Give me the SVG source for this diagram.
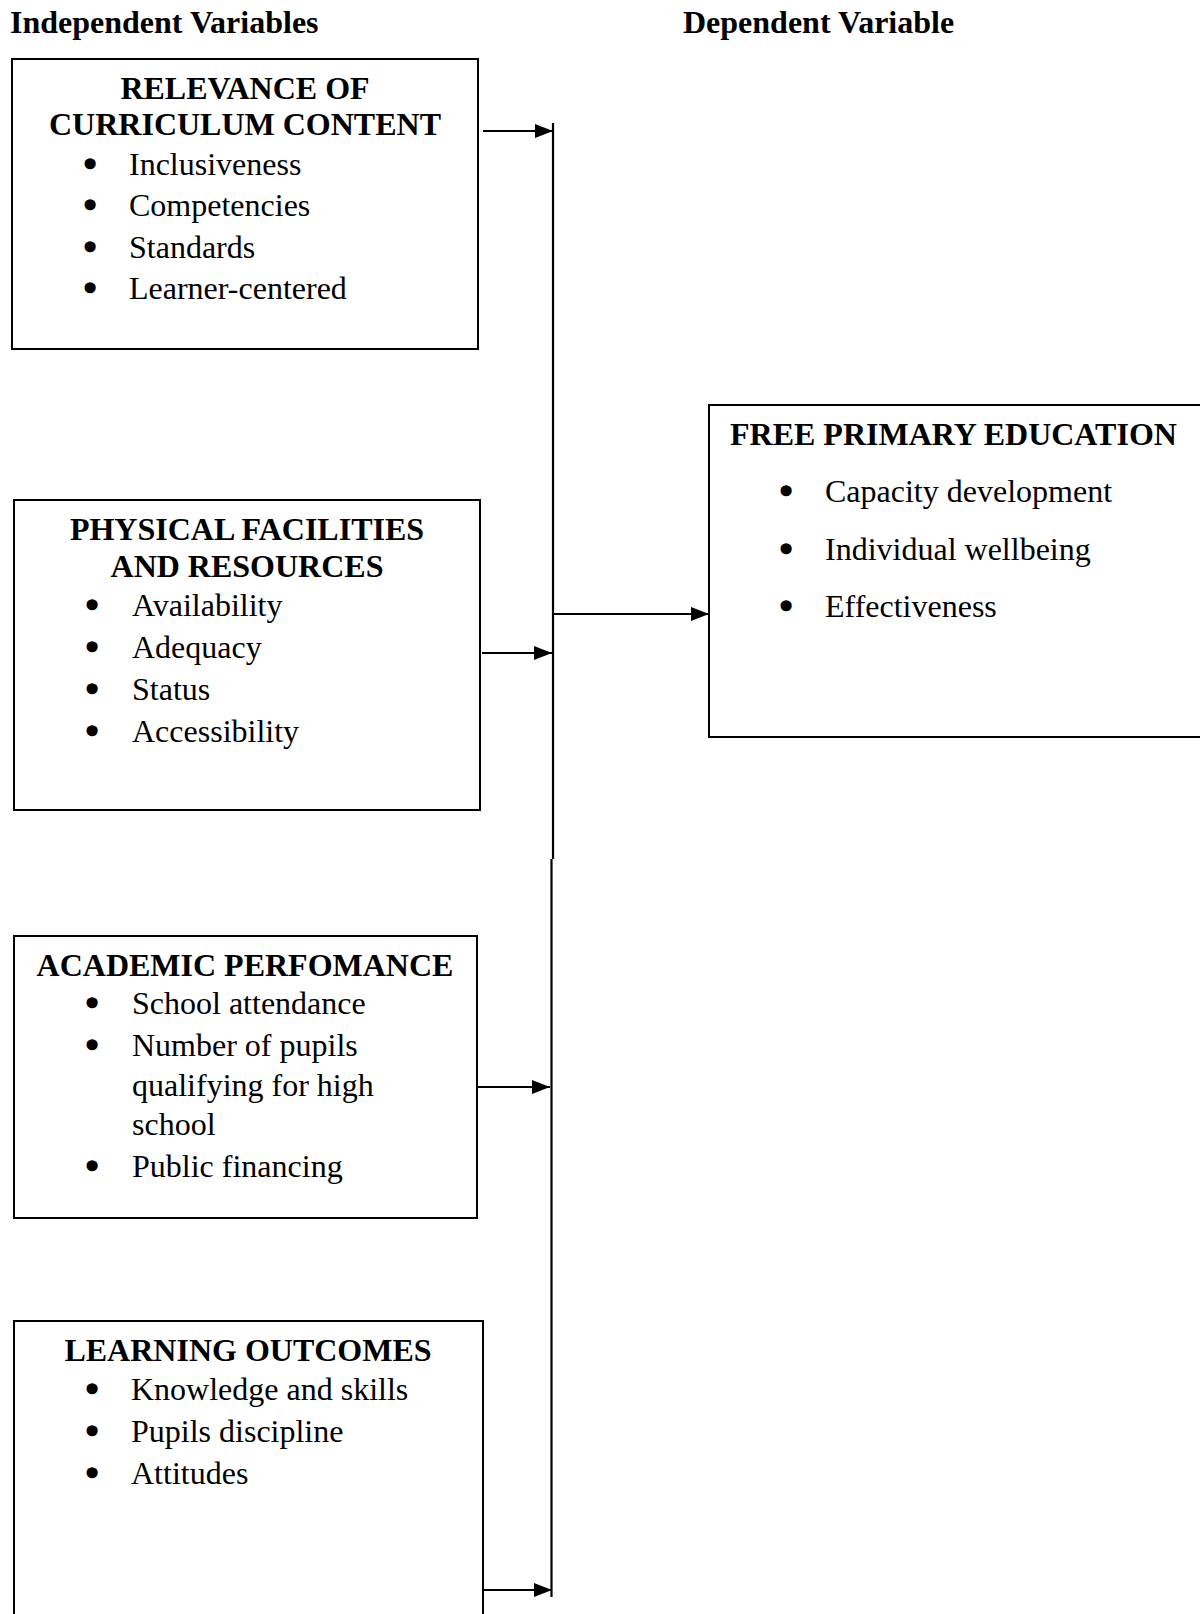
<svg xmlns="http://www.w3.org/2000/svg" width="1200" height="1614" viewBox="0 0 1200 1614">
<style>
text{font-family:"Liberation Serif","Times New Roman",serif;font-size:32px;fill:#000}
.h{font-weight:bold}
.t{font-weight:bold;text-anchor:middle}
.b{text-anchor:middle;stroke:#000;stroke-width:3.5;stroke-linejoin:round}
.box{fill:#fff;stroke:#000;stroke-width:2}
.ln{fill:none;stroke:#000;stroke-width:2.2}
</style>
<defs>
<marker id="ah" markerWidth="18" markerHeight="14" refX="18" refY="7" orient="auto" markerUnits="userSpaceOnUse">
<path d="M0,0 L18,7 L0,14 Z" fill="#000"/>
</marker>
</defs>
<rect width="1200" height="1614" fill="#fff"/>
<text class="h" x="10" y="33">Independent Variables</text>
<text class="h" x="683" y="33">Dependent Variable</text>

<g id="connectors">
<path class="ln" d="M553,123 V859"/>
<path class="ln" d="M551.5,859 V1597"/>
<path class="ln" d="M483,131 H553" marker-end="url(#ah)"/>
<path class="ln" d="M482,653 H552" marker-end="url(#ah)"/>
<path class="ln" d="M477,1087 H550" marker-end="url(#ah)"/>
<path class="ln" d="M483,1590 H552" marker-end="url(#ah)"/>
<path class="ln" d="M553,614 H709" marker-end="url(#ah)"/>
</g>

<g id="relevance">
<rect class="box" x="12" y="59" width="466" height="290"/>
<text class="t" x="245" y="99">RELEVANCE OF</text>
<text class="t" x="245" y="135">CURRICULUM CONTENT</text>
<text class="b" x="90" y="175">•</text><text x="129" y="175">Inclusiveness</text>
<text class="b" x="90" y="216">•</text><text x="129" y="216">Competencies</text>
<text class="b" x="90" y="258">•</text><text x="129" y="258">Standards</text>
<text class="b" x="90" y="299">•</text><text x="129" y="299">Learner-centered</text>
</g>

<g id="facilities">
<rect class="box" x="14" y="500" width="466" height="310"/>
<text class="t" x="247" y="540">PHYSICAL FACILITIES</text>
<text class="t" x="247" y="577">AND RESOURCES</text>
<text class="b" x="92" y="616">•</text><text x="132" y="616">Availability</text>
<text class="b" x="92" y="658">•</text><text x="132" y="658">Adequacy</text>
<text class="b" x="92" y="700">•</text><text x="132" y="700">Status</text>
<text class="b" x="92" y="742">•</text><text x="132" y="742">Accessibility</text>
</g>

<g id="fpe">
<rect class="box" x="709" y="405" width="500" height="332"/>
<text class="h" x="730" y="445">FREE PRIMARY EDUCATION</text>
<text class="b" x="786" y="502">•</text><text x="825" y="502">Capacity development</text>
<text class="b" x="786" y="560">•</text><text x="825" y="560">Individual wellbeing</text>
<text class="b" x="786" y="617">•</text><text x="825" y="617">Effectiveness</text>
</g>

<g id="academic">
<rect class="box" x="14" y="936" width="463" height="282"/>
<text class="t" x="245" y="976">ACADEMIC PERFOMANCE</text>
<text class="b" x="92" y="1014">•</text><text x="132" y="1014">School attendance</text>
<text class="b" x="92" y="1056">•</text><text x="132" y="1056">Number of pupils</text>
<text x="132" y="1096">qualifying for high</text>
<text x="132" y="1135">school</text>
<text class="b" x="92" y="1177">•</text><text x="132" y="1177">Public financing</text>
</g>

<g id="outcomes">
<rect class="box" x="14" y="1321" width="469" height="310"/>
<text class="t" x="248" y="1361">LEARNING OUTCOMES</text>
<text class="b" x="92" y="1400">•</text><text x="131" y="1400">Knowledge and skills</text>
<text class="b" x="92" y="1442">•</text><text x="131" y="1442">Pupils discipline</text>
<text class="b" x="92" y="1484">•</text><text x="131" y="1484">Attitudes</text>
</g>
</svg>
